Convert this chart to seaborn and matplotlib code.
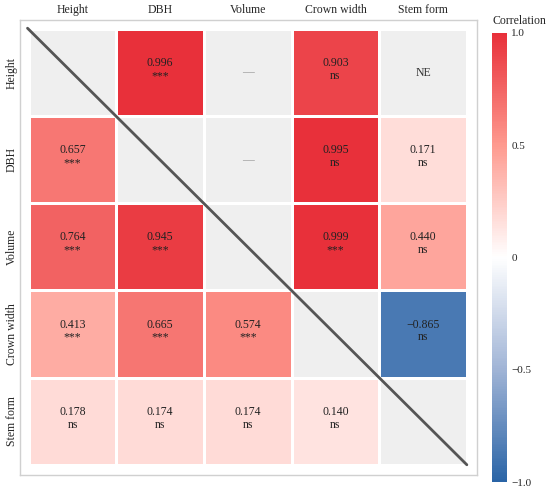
import numpy as np
import pandas as pd
import seaborn as sns
import matplotlib.pyplot as plt
from matplotlib.colors import LinearSegmentedColormap, ListedColormap

# -------------------------
# Data
# -------------------------
traits = ["Height", "DBH", "Volume", "Crown width", "Stem form"]

r_height = [np.nan, 0.996, np.nan, 0.903, np.nan]
r_dbh = [0.657, np.nan, np.nan, 0.995, 0.171]
r_volume = [0.764, 0.945, np.nan, 0.999, 0.440]
r_crown = [0.413, 0.665, 0.574, np.nan, -0.865]
r_stem = [0.178, 0.174, 0.174, 0.140, np.nan]

sig_height = ["", "***", "", "ns", ""]
sig_dbh = ["***", "", "", "ns", "ns"]
sig_volume = ["***", "***", "", "***", "ns"]
sig_crown = ["***", "***", "***", "", "ns"]
sig_stem = ["ns", "ns", "ns", "ns", ""]

# cells with no estimate: (row, col, text)
placeholders = [(0, 2, "\u2014"), (1, 2, "\u2014"), (0, 4, "NE")]

cbar_ticks = [-1.0, -0.5, 0, 0.5, 1.0]
cbar_ticklabels = ["\u22121.0", "\u22120.5", "0", "0.5", "1.0"]

corr = pd.DataFrame([r_height, r_dbh, r_volume, r_crown, r_stem],
                    index=traits, columns=traits)
sig = [sig_height, sig_dbh, sig_volume, sig_crown, sig_stem]

# -------------------------
# Plot
# -------------------------
sns.set_style("white")
plt.rcParams['font.family'] = ['Liberation Serif', 'DejaVu Serif']

cmap = LinearSegmentedColormap.from_list(
    "corr", [(0.0, "#2a64a6"), (0.25, "#a0b4d6"), (0.5, "#ffffff"),
             (0.75, "#fe9a8f"), (1.0, "#e8303a")])

fig = plt.figure(figsize=(5.5, 4.9), dpi=100)
ax = fig.add_axes([0.036, 0.031, 0.831, 0.928])
cax = fig.add_axes([0.895, 0.016, 0.027, 0.917])

missing = corr.isna()
sns.heatmap(missing.astype(float), mask=~missing, cmap=ListedColormap(["#efefef"]),
            cbar=False, linewidths=2, linecolor="white", ax=ax)
sns.heatmap(corr, mask=missing, cmap=cmap, vmin=-1, vmax=1, center=0,
            linewidths=2, linecolor="white", ax=ax, cbar_ax=cax)

for i in range(5):
    for j in range(5):
        v = corr.iloc[i, j]
        if np.isnan(v):
            continue
        txt = f"{v:.3f}".replace("-", "\u2212")
        ax.text(j + 0.5, i + 0.46, txt, ha="center", va="bottom",
                fontsize=8.5, color="#222222")
        ax.text(j + 0.5, i + 0.47, sig[i][j], ha="center", va="top",
                fontsize=8.5, color="#222222")

for i, j, t in placeholders:
    ax.text(j + 0.5, i + 0.5, t, ha="center", va="center", fontsize=8.5,
            color="#333333" if t == "NE" else "#999999")

ax.plot([-0.015, 5.0], [-0.01, 5.0], color="#555555", lw=2, solid_capstyle="round")

ax.set_xlim(-0.103, 5.114)
ax.set_ylim(5.115, -0.103)
ax.xaxis.tick_top()
ax.set_xticks(np.arange(5) + 0.5)
ax.set_xticklabels(traits, fontsize=8.5)
ax.set_yticks(np.arange(5) + 0.5)
ax.set_yticklabels(traits, fontsize=8.5, rotation=90, va="center")
ax.tick_params(axis="x", length=0, pad=3)
ax.tick_params(axis="y", length=0, pad=1.5)
ax.set_xlabel("")
ax.set_ylabel("")
for s in ax.spines.values():
    s.set_visible(True)
    s.set_color("#d0d0d0")
    s.set_linewidth(1)

cax.set_yticks(cbar_ticks)
cax.set_yticklabels(cbar_ticklabels, fontsize=8)
cax.tick_params(color="white", length=4, width=0.8, direction="in", pad=3)
for s in cax.spines.values():
    s.set_visible(False)
cax.set_title("Correlation", fontsize=8.5, pad=6, loc="left")

plt.savefig("out.png", dpi=100)
